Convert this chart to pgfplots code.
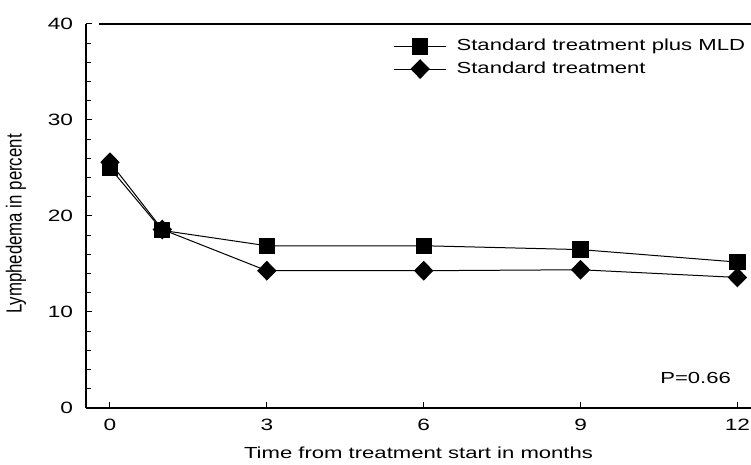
\documentclass[border=0pt]{standalone}
\usepackage{fontspec}
\setmainfont[FakeStretch=1.38]{Liberation Sans}
\newfontfamily\plainfont{Liberation Sans}
\usepackage{graphicx}
\usepackage{pgfplots}
\pgfplotsset{compat=1.18}
\begin{document}
\begin{tikzpicture}
\begin{axis}[
  scale only axis,
  width=332.5pt, height=192pt,
  xmin=-0.459, xmax=12.26,
  ymin=0, ymax=40,
  axis x line=bottom, axis y line=left,
  axis line style={-, line width=0.6pt},
  xtick={0,3,6,9,12},
  ytick={0,10,20,30,40},
  minor y tick num=4,
  tick align=inside,
  major tick length=3pt,
  minor tick length=2.5pt,
  every tick/.style={black, line width=0.5pt},
  tick label style={font=\fontsize{8.2}{9}\selectfont},
  /pgf/number format/assume math mode=true,
  xticklabel style={yshift=-2pt},
  yticklabel style={xshift=-3pt},
  xlabel={Time from treatment start in months},
  ylabel={\scalebox{1}[1.3]{Lymphedema in percent}},
  xlabel style={font=\fontsize{8}{9}\selectfont, at={(rel axis cs:0.5,0)}, anchor=center, yshift=-22.5pt},
  ylabel style={font=\plainfont\fontsize{8.4}{9}\selectfont, at={(rel axis cs:0,0.479)}, anchor=center, yshift=35pt},
  legend style={at={(rel axis cs:0.462,0.972)}, anchor=north west, draw=none, fill=none,
    font=\fontsize{8}{9}\selectfont, row sep=0pt, inner sep=0pt,
    nodes={inner xsep=5pt}},
  legend cell align=left,
  legend image code/.code={
    \draw[#1, line width=0.5pt] (0pt,0pt) -- (26pt,0pt);
    \path[#1] plot coordinates {(13pt,0pt)};},
  clip=false,
]
\addplot[black, line width=0.5pt, mark=square*, mark size=3.8pt] coordinates {
  (0,25.0) (1,18.5) (3,16.9) (6,16.9) (9,16.5) (12,15.2)};
\addlegendentry{Standard treatment plus MLD}
\addplot[black, line width=0.5pt, mark=diamond*, mark size=4.6pt, mark options={xscale=1.3}] coordinates {
  (0,25.6) (1,18.6) (3,14.3) (6,14.3) (9,14.4) (12,13.6)};
\addlegendentry{Standard treatment}
\draw[line width=0.6pt] (rel axis cs:0.02,1) -- (rel axis cs:1,1);
\node[font=\fontsize{8}{9}\selectfont, anchor=center] at (axis cs:11.2,3.1) {P=0.66};
\end{axis}
\pgfresetboundingbox
\path[use as bounding box] (-43pt,-28.5pt) rectangle (332.5pt,204pt);
\end{tikzpicture}
\end{document}
